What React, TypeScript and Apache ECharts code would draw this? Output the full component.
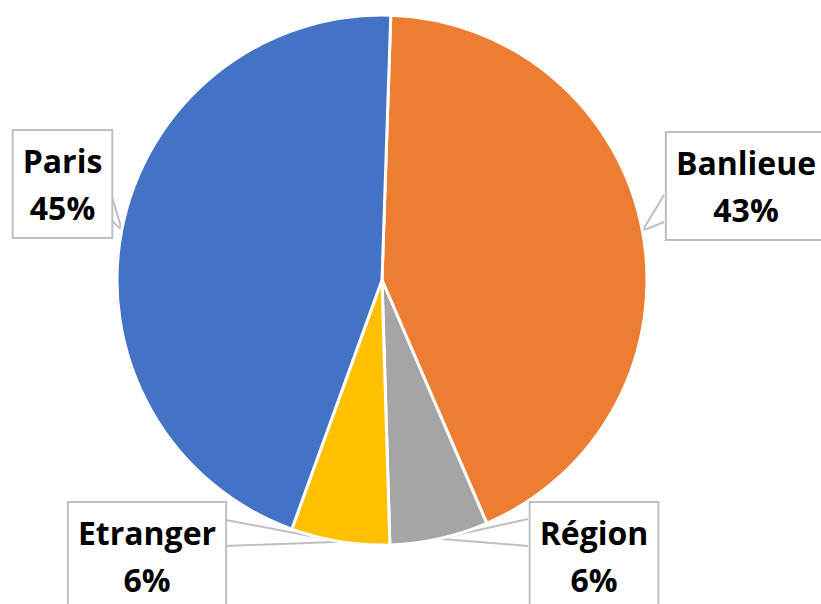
import React, { useEffect, useRef } from "react";
import * as echarts from "echarts";

const categories = ["Banlieue", "Région", "Etranger", "Paris"];
const values = [43, 6, 6, 45];
const colors = ["#ED7D31", "#A5A5A5", "#FFC000", "#4472C4"];

// Callout box placement (layout only): box centre x, box top y, edge x where the wedge attaches, wedge base y1/y2
const calloutLayout: Record<string, { cx: number; top: number; edgeX: number; y1: number; y2: number }> = {
  Banlieue: { cx: 746, top: 133, edgeX: 664, y1: 195, y2: 222 },
  "Région": { cx: 594, top: 503, edgeX: 528, y1: 519, y2: 546 },
  Etranger: { cx: 147, top: 503, edgeX: 226, y1: 520, y2: 546 },
  Paris: { cx: 62.5, top: 131, edgeX: 111, y1: 193, y2: 220 },
};

export default function App() {
  const ref = useRef<HTMLDivElement>(null);
  useEffect(() => {
    document.body.style.margin = "0";
    const chart = echarts.init(ref.current!, null, { renderer: "svg" });
    chart.setOption({
      animation: false,
      backgroundColor: "#ffffff",
      series: [
        {
          type: "pie",
          center: [382, 280],
          radius: 265,
          startAngle: 88.1,
          clockwise: true,
          avoidLabelOverlap: false,
          data: categories.map((name, i) => ({
            name,
            value: values[i],
            itemStyle: { color: colors[i] },
          })),
          itemStyle: { borderColor: "#ffffff", borderWidth: 3 },
          label: {
            show: true,
            position: "outside",
            formatter: "{b}\n{d}%",
            fontFamily: "Open Sans",
            fontWeight: "bold",
            fontSize: 32,
            lineHeight: 47,
            color: "#000000",
            backgroundColor: "#ffffff",
            borderColor: "#bfbfbf",
            borderWidth: 2,
            padding: [6, 9, 6, 9],
            align: "center",
            overflow: "none",
          },
          labelLine: {
            show: true,
            lineStyle: { color: "#bfbfbf", width: 2 },
          },
          labelLayout: (params: any) => {
            const name = categories[params.dataIndex];
            const l = calloutLayout[name];
            const tip = params.labelLinePoints ? params.labelLinePoints[0] : [l.edgeX, l.y1];
            return {
              x: l.cx,
              y: l.top,
              align: "center",
              verticalAlign: "top",
              labelLinePoints: [
                [l.edgeX, l.y1],
                tip,
                [l.edgeX, l.y2],
              ],
            };
          },
          emphasis: { disabled: true },
        },
      ],
    });
    return () => chart.dispose();
  }, []);
  return <div ref={ref} style={{ width: 821, height: 604 }} />;
}
